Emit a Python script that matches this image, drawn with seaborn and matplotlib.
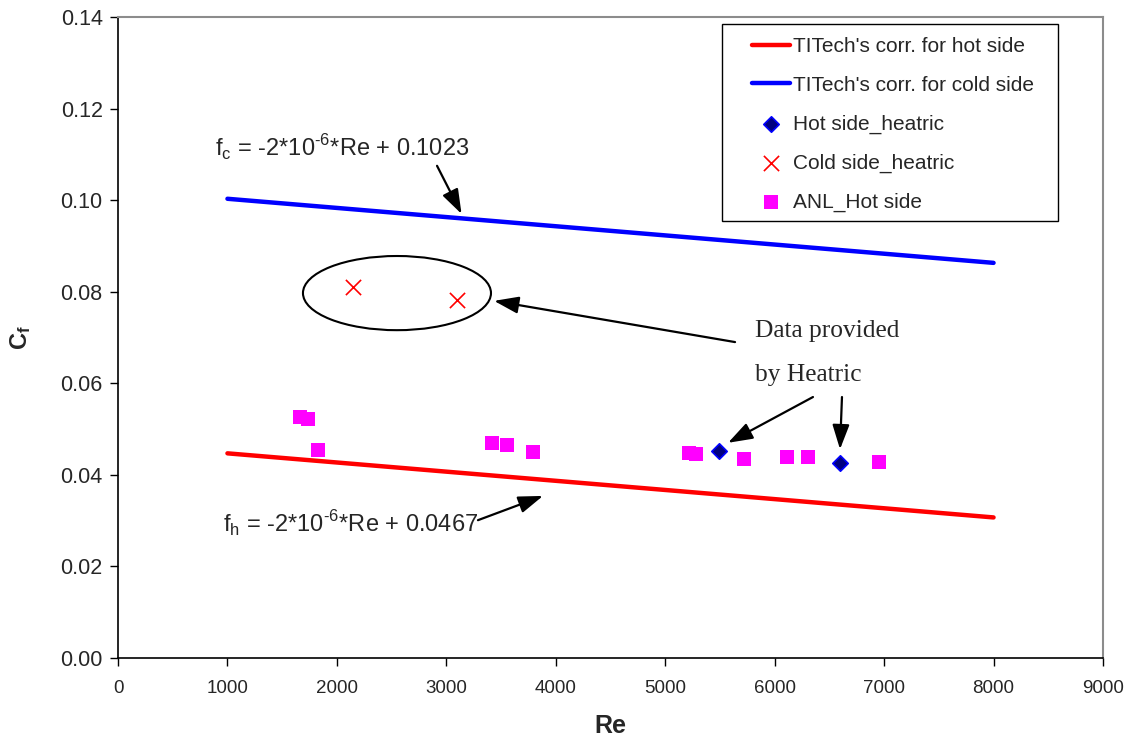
import numpy as np
import pandas as pd
import matplotlib
matplotlib.use("Agg")
import matplotlib.pyplot as plt
import seaborn as sns
from matplotlib.patches import Ellipse, Rectangle

# ---- data ----
re_line = [1000, 8000]
hot_corr = [0.0447, 0.0307]    # f_h = -2e-6*Re + 0.0467
cold_corr = [0.1003, 0.0863]   # f_c = -2e-6*Re + 0.1023

hot_heatric_re = [5490, 6600]
hot_heatric_cf = [0.0452, 0.0425]

cold_heatric_re = [2150, 3100]
cold_heatric_cf = [0.0810, 0.0782]

anl_re = [1660, 1740, 1825, 3420, 3555, 3795, 5215, 5285, 5720, 6115, 6305, 6955]
anl_cf = [0.0526, 0.0523, 0.0454, 0.0469, 0.0465, 0.0449, 0.0447, 0.0446, 0.0435, 0.0438, 0.0440, 0.0428]

x_ticks = [0, 1000, 2000, 3000, 4000, 5000, 6000, 7000, 8000, 9000]
y_ticks = [0.00, 0.02, 0.04, 0.06, 0.08, 0.10, 0.12, 0.14]

sns.set_style("white")
plt.rcParams['font.family'] = ['Liberation Sans', 'DejaVu Sans']
plt.rcParams['mathtext.fontset'] = 'custom'
plt.rcParams['mathtext.rm'] = 'Liberation Sans'
plt.rcParams['mathtext.bf'] = 'Liberation Sans:bold'

W, H = 1140, 740
L, R, T, B = 118, 1103, 17, 658
fig, ax = plt.subplots(figsize=(W/100, H/100), dpi=100)
fig.subplots_adjust(left=L/W, right=R/W, top=1-T/H, bottom=1-B/H)

def ax_xy(px, py):
    return ((px - L) / (R - L), (B - py) / (B - T))

df_hot = pd.DataFrame({"Re": re_line, "Cf": hot_corr})
df_cold = pd.DataFrame({"Re": re_line, "Cf": cold_corr})
sns.lineplot(data=df_hot, x="Re", y="Cf", ax=ax, color="#FF0000", lw=3.2,
             label="TITech's corr. for hot side")
sns.lineplot(data=df_cold, x="Re", y="Cf", ax=ax, color="#0000FF", lw=3.2,
             label="TITech's corr. for cold side")
sns.scatterplot(x=hot_heatric_re, y=hot_heatric_cf, ax=ax, marker="D", s=62,
                color="#000080", edgecolor="#0000FF", linewidth=1.2,
                label="Hot side_heatric", zorder=5)
sns.scatterplot(x=cold_heatric_re, y=cold_heatric_cf, ax=ax, marker="x", s=120,
                color="#FF0000", linewidth=1.2, label="Cold side_heatric", zorder=5)
sns.scatterplot(x=anl_re, y=anl_cf, ax=ax, marker="s", s=115,
                color="#FF00FF", edgecolor="#FF00FF", linewidth=0,
                label="ANL_Hot side", zorder=5)

ax.set_xlim(0, 9000)
ax.set_ylim(0, 0.14)
ax.set_xticks(x_ticks)
ax.set_yticks(y_ticks)
ax.set_xticklabels([str(v) for v in x_ticks])
ax.set_yticklabels([f"{v:.2f}" for v in y_ticks])
ax.tick_params(axis='x', labelsize=13.5, length=6, width=1, direction='out', color='black', pad=10)
ax.tick_params(axis='y', labelsize=15.5, length=6, width=1, direction='out', color='black', pad=5)
ax.xaxis.set_ticks_position('bottom')
ax.yaxis.set_ticks_position('left')

for s in ['left', 'bottom']:
    ax.spines[s].set_color('black')
    ax.spines[s].set_linewidth(1.2)
for s in ['top', 'right']:
    ax.spines[s].set_color('#8c8c8c')
    ax.spines[s].set_linewidth(1.5)

ax.set_xlabel("Re", fontsize=18, fontweight='bold', labelpad=12)
ax.set_ylabel(r"$\mathbf{C_f}$", fontsize=17, labelpad=20)

# legend (frame drawn separately as a rectangle)
leg = ax.legend(loc='upper left', bbox_to_anchor=ax_xy(752, 37),
                frameon=False, fontsize=15, borderpad=0, borderaxespad=0,
                labelspacing=0.95, handlelength=1.8, handletextpad=0.15,
                markerscale=1.0)
x0, y0 = ax_xy(722, 221)
x1, y1 = ax_xy(1058, 24)
ax.add_patch(Rectangle((x0, y0), x1 - x0, y1 - y0, transform=ax.transAxes,
                       fill=True, facecolor='white', edgecolor='black', lw=1.0,
                       zorder=3))
leg.set_zorder(6)

# ellipse around cold side points
ax.add_patch(Ellipse((2549, 0.0797), width=1718, height=0.0162, fill=False,
                     edgecolor='black', lw=1.5, zorder=4))

arrow = dict(arrowstyle='-|>,head_length=0.75,head_width=0.26', color='black',
             lw=1.6, mutation_scale=20, shrinkA=0, shrinkB=0)

ax.text(886, 0.1114, r"f$_\mathregular{c}$ = -2*10$^{\text{-6}}$*Re + 0.1023",
        fontsize=17, ha='left', va='center')
ax.annotate("", xy=(3139, 0.0970), xytext=(2915, 0.1075), arrowprops=arrow)

ax.text(959, 0.0293, r"f$_\mathregular{h}$ = -2*10$^{\text{-6}}$*Re + 0.0467",
        fontsize=17, ha='left', va='center')
ax.annotate("", xy=(3883, 0.0354), xytext=(3289, 0.0301), arrowprops=arrow)

ax.annotate("", xy=(3436, 0.0780), xytext=(5638, 0.0690), arrowprops=arrow)
ax.annotate("", xy=(5574, 0.0470), xytext=(6350, 0.0570), arrowprops=arrow)
ax.annotate("", xy=(6597, 0.0456), xytext=(6615, 0.0570), arrowprops=arrow)

ax.text(5822, 0.0714, "Data provided", fontsize=18.3, family=['Liberation Serif'],
        ha='left', va='center')
ax.text(5822, 0.0619, "by Heatric", fontsize=18.3, family=['Liberation Serif'],
        ha='left', va='center')

fig.savefig("out.png", dpi=100)
